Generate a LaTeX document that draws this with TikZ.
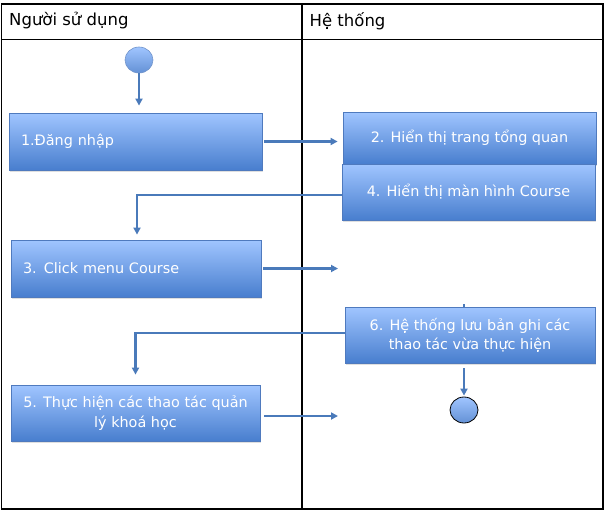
\documentclass[tikz,border=0pt]{standalone}
\usepackage{fontspec}
\setmainfont{DejaVu Sans}
\usetikzlibrary{arrows.meta,shadows,shapes.geometric}
\definecolor{boxtop}{RGB}{160,197,255}
\definecolor{boxbot}{RGB}{72,126,206}
\definecolor{boxline}{RGB}{79,122,190}
\definecolor{flowblue}{RGB}{74,122,186}
\tikzset{
  lane/.style     = {black,line width=1.1pt},
  lanetitle/.style= {anchor=west,font=\fontsize{16.5}{18}\selectfont,inner sep=0pt},
  actbox/.style   = {draw=boxline,line width=0.8pt,top color=boxtop,bottom color=boxbot,
                     text=white,font=\fontsize{14.4}{19.5}\selectfont,align=center,
                     drop shadow={opacity=0.25,shadow xshift=1pt,shadow yshift=-1.5pt}},
  leftbox/.style  = {actbox,align=left,inner xsep=12pt},
  dotnode/.style  = {ellipse,minimum width=28pt,minimum height=26pt,inner sep=0pt,
                     top color=boxtop,bottom color=boxbot!85},
  flowarr/.style  = {-{Triangle[length=7pt,width=7pt]},flowblue,line width=2.4pt}
}
\newcommand{\actnode}[6]{%
  \node[#1,minimum width=#4pt,minimum height=#5pt] (#2) at (#3) {#6};
}

\begin{document}
\begin{tikzpicture}[x=1pt,y=-1pt]
  \useasboundingbox (0,0) rectangle (607,511);
  % swimlanes
  \draw[lane] (1.5,4) rectangle (603,509);
  \draw[lane] (1.5,39.5) -- (603,39.5);
  \draw[lane] (302,4) -- (302,509);
  \node[lanetitle] (lanea) at (9,21) {Người sử dụng};
  \node[lanetitle] (laneb) at (309.5,21) {Hệ thống};
  % start and end
  \node[dotnode,draw=boxline!80,line width=0.6pt] (start) at (139,60) {};
  \node[dotnode,draw=black,line width=0.8pt] (finish) at (464,410) {};
  % actions
  \actnode{leftbox,text width=229pt}{dangnhap}{135.5,141.5}{253}{57}{1.Đăng nhập}
  \actnode{actbox}{tongquan}{469.5,138}{253}{52}{2. Hiển thị trang tổng quan}
  \actnode{actbox}{course}{468.5,192}{253}{56}{4. Hiển thị màn hình Course}
  \actnode{leftbox,text width=226pt}{menu}{136,268.5}{250}{57}{3. Click menu Course}
  \actnode{actbox}{luu}{470,335}{250}{56}{6. Hệ thống lưu bản ghi các\\thao tác vừa thực hiện}
  \actnode{actbox}{quanly}{135.5,413}{249}{56}{5. Thực hiện các thao tác quản\\lý khoá học}
  \coordinate (menuend) at (338,268.5);
  \coordinate (quanlyend) at (338,416);
  % flow
  \draw[flowarr,shorten >=7pt] (start) -- (start |- dangnhap.north);
  \draw[flowarr,shorten <=2pt,shorten >=5pt] (dangnhap.east) -- (dangnhap.east -| tongquan.west);
  \draw[flowarr,shorten >=5pt] ([yshift=-3pt]course.west) -| ([xshift=1pt]menu.north);
  \draw[flowarr,shorten <=2pt] (menu.east) -- (menuend);
  \draw[flowarr,shorten >=10pt] ([yshift=2pt]luu.west) -| (quanly.north);
  \draw[flowarr,shorten <=4pt] ([yshift=-3pt]quanly.east) -- (quanlyend);
  \draw[flowarr,shorten <=5pt,shorten >=1pt] ([xshift=-6pt]luu.south) -- (finish.north);
  \draw[flowblue,line width=2.4pt] ([xshift=-6pt]luu.north) -- ++(0,-3);
\end{tikzpicture}
\end{document}
